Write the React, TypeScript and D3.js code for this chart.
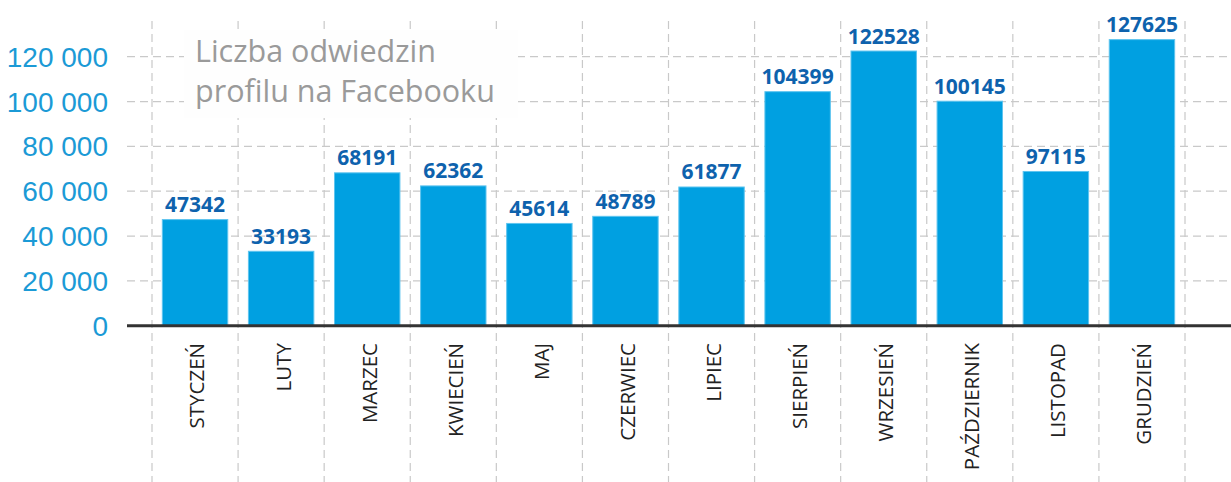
import React from "react";
import * as d3 from "d3";

// months on the x axis
const months = [
  "STYCZEŃ", "LUTY", "MARZEC", "KWIECIEŃ", "MAJ", "CZERWIEC",
  "LIPIEC", "SIERPIEŃ", "WRZESIEŃ", "PAŹDZIERNIK", "LISTOPAD", "GRUDZIEŃ",
];

// bar heights as drawn (LISTOPAD bar is shorter than its label in the original)
const barValues = [
  47342, 33193, 68191, 62362, 45614, 48789,
  61877, 104399, 122528, 100145, 68800, 127625,
];

// labels printed above the bars
const valueLabels = [
  "47342", "33193", "68191", "62362", "45614", "48789",
  "61877", "104399", "122528", "100145", "97115", "127625",
];

const yTicks = [0, 20000, 40000, 60000, 80000, 100000, 120000];

const titleLines = ["Liczba odwiedzin", "profilu na Facebooku"];

const W = 1231;
const H = 482;

const plLocale = d3.formatLocale({
  decimal: ",",
  thousands: " ",
  grouping: [3],
  currency: ["", " zł"],
});
const fmt = plLocale.format(",d");

const App = () => {
  const axisLeft = 127;
  const baseY = 325.7;

  const x = d3
    .scaleBand<string>()
    .domain(months)
    .range([152, 1185])
    .paddingInner(0.24)
    .paddingOuter(0.12);

  const y = d3.scaleLinear().domain([0, 120000]).range([baseY, 56.7]);

  const step = x.step();
  const half = (step - x.bandwidth()) / 2;
  const gridXs = months.map((m) => (x(m) as number) - half);
  gridXs.push((x(months[months.length - 1]) as number) + x.bandwidth() + half);

  const gridColor = "#c9c9c9";

  return (
    <svg
      width={W}
      height={H}
      style={{ position: "absolute", left: 0, top: 0, background: "#fff" }}
    >
      {/* vertical grid */}
      {gridXs.map((gx, i) => (
        <line
          key={"vg" + i}
          x1={gx}
          x2={gx}
          y1={21}
          y2={H}
          stroke={gridColor}
          strokeWidth={1.2}
          strokeDasharray="8,5"
        />
      ))}
      {/* horizontal grid */}
      {yTicks
        .filter((t) => t > 0)
        .map((t) => (
          <line
            key={"hg" + t}
            x1={axisLeft}
            x2={W}
            y1={y(t)}
            y2={y(t)}
            stroke={gridColor}
            strokeWidth={1.2}
            strokeDasharray="8,5"
          />
        ))}

      {/* title box */}
      <rect x={184} y={30} width={334} height={88} fill="#fefefe" />
      {titleLines.map((line, i) => (
        <text
          key={line}
          x={195}
          y={62 + i * 40}
          fontFamily="'Open Sans', sans-serif"
          fontSize={30.5}
          fill="#9a9a9a"
        >
          {line}
        </text>
      ))}

      {/* y tick labels */}
      {yTicks.map((t) => (
        <text
          key={"yt" + t}
          x={108}
          y={y(t)}
          dy="0.36em"
          textAnchor="end"
          fontFamily="'Liberation Sans', Arial, sans-serif"
          fontSize={28}
          fill="#1b9ad6"
        >
          {fmt(t)}
        </text>
      ))}

      {/* bars */}
      {months.map((m, i) => (
        <rect
          key={"b" + m}
          x={x(m)}
          y={y(barValues[i])}
          width={x.bandwidth()}
          height={baseY - y(barValues[i])}
          fill="#00a0e1"
          stroke="#5ec4ef"
          strokeWidth={1}
        />
      ))}

      {/* value labels */}
      {months.map((m, i) => (
        <text
          key={"vl" + m}
          x={(x(m) as number) + x.bandwidth() / 2}
          y={y(barValues[i]) - 7.5}
          textAnchor="middle"
          fontFamily="'Open Sans', sans-serif"
          fontWeight={700}
          fontSize={21}
          fill="#0e62ad"
        >
          {valueLabels[i]}
        </text>
      ))}

      {/* baseline */}
      <line
        x1={axisLeft}
        x2={W}
        y1={baseY}
        y2={baseY}
        stroke="#333"
        strokeWidth={3}
      />

      {/* month labels */}
      {months.map((m) => (
        <text
          key={"ml" + m}
          transform={`translate(${(x(m) as number) + x.bandwidth() / 2 + 2},343) rotate(-90)`}
          dy="0.36em"
          textAnchor="end"
          fontFamily="'Open Sans', sans-serif"
          fontSize={20.5}
          fill="#222"
        >
          {m}
        </text>
      ))}
    </svg>
  );
};

export default App;
